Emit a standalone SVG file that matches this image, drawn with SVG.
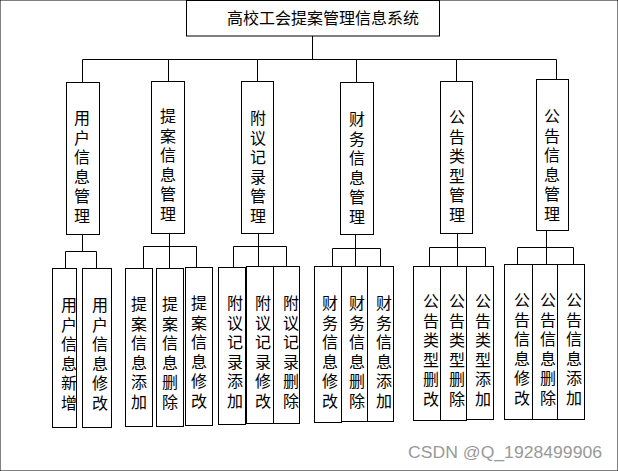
<svg xmlns="http://www.w3.org/2000/svg" width="618" height="471" viewBox="0 0 618 471">
<style>
rect{fill:#fff;stroke:#000;stroke-width:1}
#connectors path{fill:none;stroke:#000;stroke-width:1}
text{font-family:"Noto Sans CJK SC","Noto Sans",sans-serif;font-size:16px;fill:#000}
.t{text-anchor:middle;dominant-baseline:central}
.v{writing-mode:vertical-rl;text-orientation:upright;letter-spacing:3.5px;text-anchor:start;dominant-baseline:central}
.wm{font-family:"Liberation Sans",Arial,sans-serif;font-size:16px;fill:#999}
</style>
<rect x="0" y="0" width="618" height="471" fill="#fff" stroke="none"/>
<g id="connectors">
<path d="M312.5 36V59.5M82.5 59.5H556.5M82.5 59.5V82M168.5 59.5V81M257.5 59.5V81M356.5 59.5V82M456.5 59.5V81M556.5 59.5V79"/>
<path d="M82.5 234V251.5M65.5 251.5H96.5M65.5 251.5V268M96.5 251.5V268"/>
<path d="M169.5 233V268M143.5 246.5H196.5M143.5 246.5V268M196.5 246.5V267"/>
<path d="M258.5 233V266M233.5 246.5H286.5M233.5 246.5V267M286.5 246.5V266"/>
<path d="M355.5 234V266M332.5 248.5H380.5M332.5 248.5V266M380.5 248.5V266"/>
<path d="M457.5 233V266M429.5 247.5H485.5M429.5 247.5V266M485.5 247.5V266"/>
<path d="M546.5 230V264M517.5 247.5H573.5M517.5 247.5V264M573.5 247.5V264"/>
</g>
<g id="root"><rect x="186.5" y="0.5" width="253" height="35.5"/><text class="t" x="323" y="17">高校工会提案管理信息系统</text></g>

<g id="n1"><rect x="66.5" y="82.5" width="33" height="152"/><text class="v" x="82" y="110">用户信息管理</text></g>
<g id="n2"><rect x="151.5" y="81.5" width="33" height="152"/><text class="v" x="168" y="108">提案信息管理</text></g>
<g id="n3"><rect x="241.5" y="81.5" width="32" height="152"/><text class="v" x="258" y="110">附议记录管理</text></g>
<g id="n4"><rect x="340.5" y="82.5" width="33" height="152"/><text class="v" x="357" y="111">财务信息管理</text></g>
<g id="n5"><rect x="440.5" y="81.5" width="32" height="152"/><text class="v" x="457" y="109">公告类型管理</text></g>
<g id="n6"><rect x="536.5" y="79.5" width="32" height="151"/><text class="v" x="552" y="108">公告信息管理</text></g>

<g id="n1a"><rect x="52.5" y="268.5" width="24" height="159"/><text class="v" x="69" y="297">用户信息新增</text></g>
<g id="n1b"><rect x="82.5" y="268.5" width="29" height="159"/><text class="v" x="100" y="297">用户信息修改</text></g>

<g id="n2a"><rect x="125.5" y="268.5" width="27" height="158"/><text class="v" x="139" y="296">提案信息添加</text></g>
<g id="n2b"><rect x="156.5" y="268.5" width="27" height="158"/><text class="v" x="170" y="296">提案信息删除</text></g>
<g id="n2c"><rect x="185.5" y="267.5" width="27" height="158"/><text class="v" x="199" y="295">提案信息修改</text></g>

<g id="n3a"><rect x="218.5" y="267.5" width="27" height="157"/><text class="v" x="235" y="295">附议记录添加</text></g>
<g id="n3b"><rect x="246.5" y="266.5" width="27" height="157"/><text class="v" x="263" y="295">附议记录修改</text></g>
<g id="n3c"><rect x="273.5" y="266.5" width="26" height="157"/><text class="v" x="291" y="295">附议记录删除</text></g>

<g id="n4a"><rect x="314.5" y="266.5" width="27" height="156"/><text class="v" x="330" y="295">财务信息修改</text></g>
<g id="n4b"><rect x="341.5" y="266.5" width="26" height="155"/><text class="v" x="357" y="295">财务信息删除</text></g>
<g id="n4c"><rect x="367.5" y="266.5" width="26" height="155"/><text class="v" x="384" y="295">财务信息添加</text></g>

<g id="n5a"><rect x="413.5" y="266.5" width="27" height="154"/><text class="v" x="431" y="293">公告类型删改</text></g>
<g id="n5b"><rect x="440.5" y="266.5" width="26" height="154"/><text class="v" x="457" y="293">公告类型删除</text></g>
<g id="n5c"><rect x="466.5" y="266.5" width="27" height="153"/><text class="v" x="483" y="293">公告类型添加</text></g>

<g id="n6a"><rect x="504.5" y="264.5" width="28" height="155"/><text class="v" x="522" y="292">公告信息修改</text></g>
<g id="n6b"><rect x="532.5" y="264.5" width="25" height="155"/><text class="v" x="548" y="292">公告信息删除</text></g>
<g id="n6c"><rect x="557.5" y="264.5" width="27" height="155"/><text class="v" x="574" y="292">公告信息添加</text></g>

<text class="wm" x="408" y="458" textLength="194" lengthAdjust="spacingAndGlyphs">CSDN @Q_1928499906</text>
</svg>
